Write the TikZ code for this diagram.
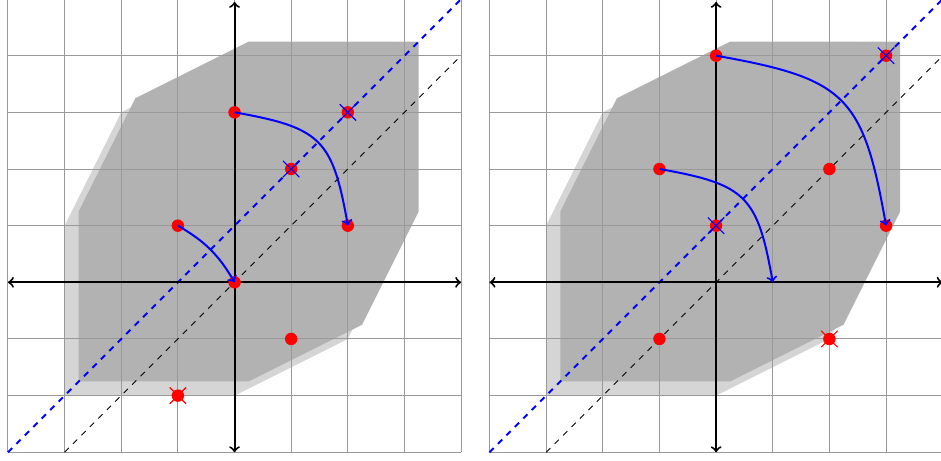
\documentclass[tikz,border=0pt]{standalone}
\usetikzlibrary{shapes.misc}
\begin{document}
\begin{tikzpicture}[
  dot/.style={circle, fill=red, inner sep=0pt, minimum size=0.22cm},
  xmark/.style={cross out, draw=#1, line width=0.55pt, inner sep=0pt, minimum size=0.27cm},
  gridl/.style={gray!80, line width=0.5pt},
  diagblue/.style={blue, dashed, line width=1pt},
  diagblack/.style={black, dashed, line width=0.45pt},
  axisline/.style={<->, line width=1pt},
  move/.style={->, blue, line width=1pt},
  lightreg/.style={fill=gray!33},
  darkreg/.style={fill=gray!60},
  region/.pic={
    \fill[lightreg] (-3,-2) -- (0,-2) -- (2,-1) -- (3,1) -- (3,4) -- (0,4) -- (-2,3) -- (-3,1) -- cycle;
    \fill[darkreg] (-2.75,-1.75) -- (0.25,-1.75) -- (2.25,-0.75) -- (3.25,1.25) -- (3.25,4.25) -- (0.25,4.25) -- (-1.75,3.25) -- (-2.75,1.25) -- cycle;
    \draw[gridl] (-4,-3) grid (4,5);
    \draw[diagblue] (-4,-3) -- (4,5);
    \draw[diagblack] (-3,-3) -- (4,4);
    \draw[axisline] (-4,0) -- (4,0);
    \draw[axisline] (0,-3) -- (0,4.95);
  }
]
\useasboundingbox (-4.14,-3.154) rectangle (12.47,4.983);
\clip (-4.14,-3.154) rectangle (12.47,4.983);

% left panel
\pic at (0,0) {region};
\node[dot] (a1) at (0,3) {};
\node[dot] (a2) at (2,3) {};
\node[dot] (a3) at (1,2) {};
\node[dot] (a4) at (2,1) {};
\node[dot] (a5) at (-1,1) {};
\node[dot] (a6) at (0,0) {};
\node[dot] (a7) at (1,-1) {};
\node[dot] (a8) at (-1,-2) {};
\node[xmark=blue] (xa2) at (a2) {};
\node[xmark=blue] (xa3) at (a3) {};
\node[xmark=red] (xa8) at (a8) {};
\draw[move] (a1.center) to[out=-10,in=100,looseness=1.4] (a4.center);
\draw[move] (a5.center) to[out=-30,in=120] (a6.center);

% right panel
\begin{scope}[xshift=8.5cm]
\pic at (0,0) {region};
\node[dot] (b1) at (0,4) {};
\node[dot] (b2) at (3,4) {};
\node[dot] (b3) at (-1,2) {};
\node[dot] (b4) at (2,2) {};
\node[dot] (b5) at (0,1) {};
\node[dot] (b6) at (3,1) {};
\node[dot] (b7) at (-1,-1) {};
\node[dot] (b8) at (2,-1) {};
\coordinate (bend) at (1,0);
\node[xmark=blue] (xb2) at (b2) {};
\node[xmark=blue] (xb5) at (b5) {};
\node[xmark=red] (xb8) at (b8) {};
\draw[move] (b1.center) to[out=-10,in=100,looseness=1.4] (b6.center);
\draw[move] (b3.center) to[out=-10,in=100,looseness=1.4] (bend);
\end{scope}
\end{tikzpicture}
\end{document}
